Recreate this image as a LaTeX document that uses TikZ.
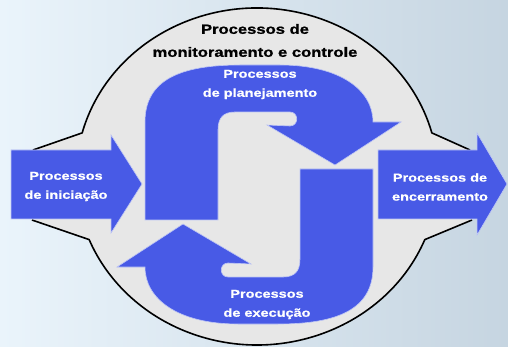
\documentclass[tikz,border=0pt]{standalone}
\usepackage{fontspec}
\newfontfamily\lbfont{Liberation Sans Bold}[FakeStretch=1.26,FakeBold=0.7]
\newfontfamily\ltfont{Liberation Sans Bold}[FakeStretch=1.23,FakeBold=0.9]
\definecolor{bgL}{RGB}{234,244,251}
\definecolor{bgR}{RGB}{198,213,225}
\definecolor{gfill}{RGB}{231,231,231}
\definecolor{pblue}{RGB}{72,90,230}
\definecolor{pedge}{RGB}{190,198,245}
\newcommand{\sarrowpath}{(145,220) -- (145,122) .. controls (145,80) and (180,65) .. (240,65) -- (280,65) .. controls (340,65) and (373,90) .. (373,122) -- (401,122) -- (335,165) -- (267,125) -- (290,126) .. controls (299,126) and (299,112) .. (290,112) -- (235,112) .. controls (223,112) and (218,118) .. (218,130) -- (218,220) -- cycle}
\begin{document}
\begin{tikzpicture}[x=1pt,y=-1pt,
  outl/.style={draw=black,line width=1.6pt,line join=round},
  bshape/.style={fill=pblue,draw=pedge,line width=0.6pt},
  wtext/.style={text=white,align=center,inner sep=0pt,font=\lbfont\fontsize{11.5}{19}\selectfont},
  ttext/.style={text=black,align=center,inner sep=0pt,font=\ltfont\fontsize{13.5}{23}\selectfont}]
\useasboundingbox (0,0) rectangle (508,347);
\shade[left color=bgL,right color=bgR] (0,0) rectangle (508,347);
% gray region
\fill[gfill] (33,150) -- (82.17,132.89) arc[start angle=195,end angle=345,x radius=181,y radius=168.5] -- (470,150) -- (472,220) -- (424.8,239.6) arc[start angle=22,end angle=158,x radius=181,y radius=168.5] -- (32,220) -- cycle;
\draw[outl] (33,150) -- (82.17,132.89) arc[start angle=195,end angle=345,x radius=181,y radius=168.5] -- (470,150);
\draw[outl] (472,220) -- (424.8,239.6) arc[start angle=22,end angle=158,x radius=181,y radius=168.5] -- (32,220);
% side arrows
\path[bshape] (11,150) -- (111,150) -- (111,135) -- (142,184) -- (111,233) -- (111,219) -- (11,219) -- cycle;
\path[bshape] (378,150) -- (477,150) -- (477,133) -- (507,184) -- (477,235) -- (477,219) -- (378,219) -- cycle;
% central arrows
\path[bshape] \sarrowpath;
\path[bshape,rotate around={180:(259,194.5)}] \sarrowpath;
% texts
\node[ttext] (monit) at (255,40.5) {Processos de\\monitoramento e controle};
\node[wtext] (plan) at (260,84.5) {Processos\\de planejamento};
\node[wtext] (inic) at (66,186.5) {Processos\\de iniciação};
\node[wtext] (encer) at (440,187) {Processos de\\encerramento};
\node[wtext] (exec) at (267,304.5) {Processos\\de execução};
\end{tikzpicture}
\end{document}
